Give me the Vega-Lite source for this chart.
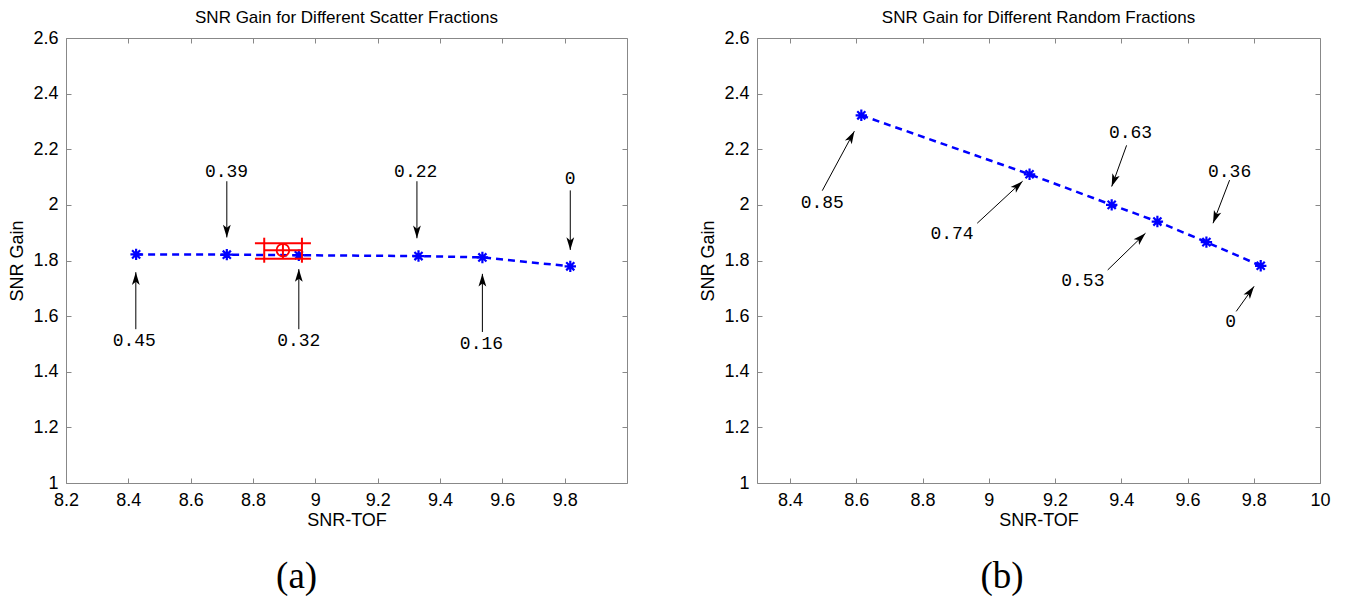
{
  "$schema": "https://vega.github.io/schema/vega-lite/v6.json",
  "padding": {"left": 8, "top": 8, "right": 5, "bottom": 0},
  "datasets": {
    "scatter": [
      {"sf": "0.45", "snr": 8.425, "gain": 1.822},
      {"sf": "0.39", "snr": 8.716, "gain": 1.821},
      {"sf": "0.32", "snr": 8.947, "gain": 1.819},
      {"sf": "0.22", "snr": 9.331, "gain": 1.816},
      {"sf": "0.16", "snr": 9.536, "gain": 1.811},
      {"sf": "0", "snr": 9.818, "gain": 1.779}
    ],
    "scatterNotes": [
      {"label": "0.45", "lx": 8.419, "ly": 1.511, "tx": 8.424, "ty": 1.553, "hx": 8.424, "hy": 1.758},
      {"label": "0.39", "lx": 8.715, "ly": 2.117, "tx": 8.716, "ty": 2.085, "hx": 8.716, "hy": 1.883},
      {"label": "0.32", "lx": 8.947, "ly": 1.510, "tx": 8.947, "ty": 1.553, "hx": 8.947, "hy": 1.769},
      {"label": "0.22", "lx": 9.322, "ly": 2.120, "tx": 9.326, "ty": 2.085, "hx": 9.326, "hy": 1.880},
      {"label": "0.16", "lx": 9.533, "ly": 1.500, "tx": 9.536, "ty": 1.543, "hx": 9.536, "hy": 1.752},
      {"label": "0", "lx": 9.818, "ly": 2.092, "tx": 9.818, "ty": 2.052, "hx": 9.818, "hy": 1.838}
    ],
    "scatterErr": [
      {"snr": 8.896, "gain": 1.837, "xlo": 8.836, "xhi": 8.957, "ylo": 1.806, "yhi": 1.862}
    ],
    "random": [
      {"rf": "0.85", "snr": 8.615, "gain": 2.322},
      {"rf": "0.74", "snr": 9.123, "gain": 2.110},
      {"rf": "0.63", "snr": 9.371, "gain": 2.000},
      {"rf": "0.53", "snr": 9.509, "gain": 1.940},
      {"rf": "0.36", "snr": 9.657, "gain": 1.866},
      {"rf": "0", "snr": 9.821, "gain": 1.781}
    ],
    "randomNotes": [
      {"label": "0.85", "lx": 8.497, "ly": 2.008, "tx": 8.497, "ty": 2.051, "hx": 8.594, "hy": 2.265},
      {"label": "0.74", "lx": 8.889, "ly": 1.894, "tx": 8.965, "ty": 1.934, "hx": 9.102, "hy": 2.085},
      {"label": "0.63", "lx": 9.428, "ly": 2.257, "tx": 9.416, "ty": 2.214, "hx": 9.371, "hy": 2.066},
      {"label": "0.53", "lx": 9.284, "ly": 1.725, "tx": 9.359, "ty": 1.766, "hx": 9.473, "hy": 1.898},
      {"label": "0.36", "lx": 9.727, "ly": 2.117, "tx": 9.727, "ty": 2.089, "hx": 9.677, "hy": 1.934},
      {"label": "0", "lx": 9.730, "ly": 1.578, "tx": 9.747, "ty": 1.617, "hx": 9.801, "hy": 1.707}
    ]
  },
  "hconcat": [
    {
      "width": 561,
      "height": 445,
      "title": {"text": "SNR Gain for Different Scatter Fractions", "frame": "group", "anchor": "middle", "offset": 2},
      "resolve": {"axis": {"x": "independent", "y": "independent"}},
      "layer": [
        {
          "data": {"name": "scatter"},
          "mark": {"type": "line", "color": "#0000ff", "strokeDash": [7, 5], "strokeWidth": 2.5},
          "encoding": {
            "x": {"field": "snr", "type": "quantitative", "scale": {"domain": [8.2, 10], "nice": false, "zero": false},
                  "axis": {"orient": "bottom", "values": [8.2, 8.4, 8.6, 8.8, 9, 9.2, 9.4, 9.6, 9.8], "format": "~g", "title": "SNR-TOF"}},
            "y": {"field": "gain", "type": "quantitative", "scale": {"domain": [1, 2.6], "nice": false, "zero": false},
                  "axis": {"orient": "left", "values": [1, 1.2, 1.4, 1.6, 1.8, 2, 2.2, 2.4, 2.6], "format": "~g", "title": "SNR Gain"}}
          }
        },
        {
          "data": {"name": "scatter"},
          "mark": {"type": "point", "shape": "M0,-1L0,1M-1,0L1,0M-0.71,-0.71L0.71,0.71M-0.71,0.71L0.71,-0.71", "filled": false, "color": "#0000ff", "strokeWidth": 2.2, "size": 130, "opacity": 1},
          "encoding": {
            "x": {"field": "snr", "type": "quantitative", "axis": {"orient": "top", "labels": false, "title": null, "values": [8.2, 8.4, 8.6, 8.8, 9, 9.2, 9.4, 9.6, 9.8]}},
            "y": {"field": "gain", "type": "quantitative", "axis": {"orient": "right", "labels": false, "title": null, "values": [1, 1.2, 1.4, 1.6, 1.8, 2, 2.2, 2.4, 2.6]}}
          }
        },
        {
          "data": {"name": "scatterErr"},
          "mark": {"type": "rule", "color": "#ff0000", "strokeWidth": 2},
          "encoding": {
            "x": {"field": "xlo", "type": "quantitative", "axis": null},
            "x2": {"field": "xhi"},
            "y": {"field": "gain", "type": "quantitative", "axis": null}
          }
        },
        {
          "data": {"name": "scatterErr"},
          "mark": {"type": "rule", "color": "#ff0000", "strokeWidth": 2},
          "encoding": {
            "x": {"field": "snr", "type": "quantitative", "axis": null},
            "y": {"field": "ylo", "type": "quantitative", "axis": null},
            "y2": {"field": "yhi"}
          }
        },
        {
          "data": {"name": "scatterErr"},
          "transform": [{"fold": ["xlo", "xhi"], "as": ["side", "xv"]}],
          "mark": {"type": "tick", "orient": "vertical", "color": "#ff0000", "size": 25, "thickness": 2, "opacity": 1},
          "encoding": {
            "x": {"field": "xv", "type": "quantitative", "axis": null},
            "y": {"field": "gain", "type": "quantitative", "axis": null}
          }
        },
        {
          "data": {"name": "scatterErr"},
          "transform": [{"fold": ["ylo", "yhi"], "as": ["side", "yv"]}],
          "mark": {"type": "tick", "orient": "horizontal", "color": "#ff0000", "size": 56, "thickness": 2, "opacity": 1},
          "encoding": {
            "x": {"field": "snr", "type": "quantitative", "axis": null},
            "y": {"field": "yv", "type": "quantitative", "axis": null}
          }
        },
        {
          "data": {"name": "scatterErr"},
          "mark": {"type": "point", "shape": "circle", "filled": false, "color": "#ff0000", "strokeWidth": 1.8, "size": 160, "opacity": 1},
          "encoding": {
            "x": {"field": "snr", "type": "quantitative", "axis": null},
            "y": {"field": "gain", "type": "quantitative", "axis": null}
          }
        },
        {
          "data": {"name": "scatterNotes"},
          "mark": {"type": "rule", "color": "#000000", "strokeWidth": 1},
          "encoding": {
            "x": {"field": "tx", "type": "quantitative", "axis": null},
            "y": {"field": "ty", "type": "quantitative", "axis": null},
            "x2": {"field": "hx"},
            "y2": {"field": "hy"}
          }
        },
        {
          "data": {"name": "scatterNotes"},
          "transform": [{"calculate": "atan2((datum.hx - datum.tx) * 311.7, (datum.hy - datum.ty) * 278.1) * 180 / PI", "as": "ang"}],
          "mark": {"type": "point", "shape": "M0,0L0.55,1.8L0,1.35L-0.55,1.8Z", "filled": true, "color": "#000000", "size": 200, "opacity": 1},
          "encoding": {
            "x": {"field": "hx", "type": "quantitative", "axis": null},
            "y": {"field": "hy", "type": "quantitative", "axis": null},
            "angle": {"field": "ang", "type": "quantitative", "scale": null}
          }
        },
        {
          "data": {"name": "scatterNotes"},
          "mark": {"type": "text", "font": "Liberation Mono", "fontSize": 18, "align": "center", "baseline": "middle", "color": "#000000"},
          "encoding": {
            "x": {"field": "lx", "type": "quantitative", "axis": null},
            "y": {"field": "ly", "type": "quantitative", "axis": null},
            "text": {"field": "label"}
          }
        },
        {
          "data": {"values": [{"caption": "(a)"}]},
          "mark": {"type": "text", "font": "Liberation Serif", "fontSize": 37, "align": "center", "baseline": "middle", "color": "#000000"},
          "encoding": {
            "x": {"datum": 8.94, "type": "quantitative", "axis": null},
            "y": {"datum": 0.662, "type": "quantitative", "axis": null},
            "text": {"field": "caption"}
          }
        }
      ]
    },
    {
      "width": 563,
      "height": 445,
      "title": {"text": "SNR Gain for Different Random Fractions", "frame": "group", "anchor": "middle", "offset": 2},
      "resolve": {"axis": {"x": "independent", "y": "independent"}},
      "layer": [
        {
          "data": {"name": "random"},
          "mark": {"type": "line", "color": "#0000ff", "strokeDash": [7, 5], "strokeWidth": 2.5},
          "encoding": {
            "x": {"field": "snr", "type": "quantitative", "scale": {"domain": [8.3, 10], "nice": false, "zero": false},
                  "axis": {"orient": "bottom", "values": [8.4, 8.6, 8.8, 9, 9.2, 9.4, 9.6, 9.8, 10], "format": "~g", "title": "SNR-TOF"}},
            "y": {"field": "gain", "type": "quantitative", "scale": {"domain": [1, 2.6], "nice": false, "zero": false},
                  "axis": {"orient": "left", "values": [1, 1.2, 1.4, 1.6, 1.8, 2, 2.2, 2.4, 2.6], "format": "~g", "title": "SNR Gain"}}
          }
        },
        {
          "data": {"name": "random"},
          "mark": {"type": "point", "shape": "M0,-1L0,1M-1,0L1,0M-0.71,-0.71L0.71,0.71M-0.71,0.71L0.71,-0.71", "filled": false, "color": "#0000ff", "strokeWidth": 2.2, "size": 130, "opacity": 1},
          "encoding": {
            "x": {"field": "snr", "type": "quantitative", "axis": {"orient": "top", "labels": false, "title": null, "values": [8.4, 8.6, 8.8, 9, 9.2, 9.4, 9.6, 9.8]}},
            "y": {"field": "gain", "type": "quantitative", "axis": {"orient": "right", "labels": false, "title": null, "values": [1, 1.2, 1.4, 1.6, 1.8, 2, 2.2, 2.4, 2.6]}}
          }
        },
        {
          "data": {"name": "randomNotes"},
          "mark": {"type": "rule", "color": "#000000", "strokeWidth": 1},
          "encoding": {
            "x": {"field": "tx", "type": "quantitative", "axis": null},
            "y": {"field": "ty", "type": "quantitative", "axis": null},
            "x2": {"field": "hx"},
            "y2": {"field": "hy"}
          }
        },
        {
          "data": {"name": "randomNotes"},
          "transform": [{"calculate": "atan2((datum.hx - datum.tx) * 331.2, (datum.hy - datum.ty) * 278.1) * 180 / PI", "as": "ang"}],
          "mark": {"type": "point", "shape": "M0,0L0.55,1.8L0,1.35L-0.55,1.8Z", "filled": true, "color": "#000000", "size": 200, "opacity": 1},
          "encoding": {
            "x": {"field": "hx", "type": "quantitative", "axis": null},
            "y": {"field": "hy", "type": "quantitative", "axis": null},
            "angle": {"field": "ang", "type": "quantitative", "scale": null}
          }
        },
        {
          "data": {"name": "randomNotes"},
          "mark": {"type": "text", "font": "Liberation Mono", "fontSize": 18, "align": "center", "baseline": "middle", "color": "#000000"},
          "encoding": {
            "x": {"field": "lx", "type": "quantitative", "axis": null},
            "y": {"field": "ly", "type": "quantitative", "axis": null},
            "text": {"field": "label"}
          }
        },
        {
          "data": {"values": [{"caption": "(b)"}]},
          "mark": {"type": "text", "font": "Liberation Serif", "fontSize": 37, "align": "center", "baseline": "middle", "color": "#000000"},
          "encoding": {
            "x": {"datum": 9.04, "type": "quantitative", "axis": null},
            "y": {"datum": 0.662, "type": "quantitative", "axis": null},
            "text": {"field": "caption"}
          }
        }
      ]
    }
  ],
  "spacing": 71,
  "config": {
    "font": "Liberation Sans",
    "view": {"stroke": "#888888", "strokeWidth": 1},
    "axis": {
      "grid": false, "domain": false, "tickColor": "#888888", "tickSize": -5, "tickWidth": 1,
      "labelFont": "Liberation Sans", "labelFontSize": 18, "labelColor": "#000000",
      "labelFlush": false, "labelOverlap": false,
      "titleFont": "Liberation Sans", "titleFontSize": 18, "titleFontWeight": "normal", "titleColor": "#000000"
    },
    "axisX": {"titlePadding": 2, "labelPadding": 13},
    "axisY": {"titlePadding": 6, "labelPadding": 13},
    "title": {"font": "Liberation Sans", "fontSize": 17, "fontWeight": "normal", "color": "#000000"}
  }
}
